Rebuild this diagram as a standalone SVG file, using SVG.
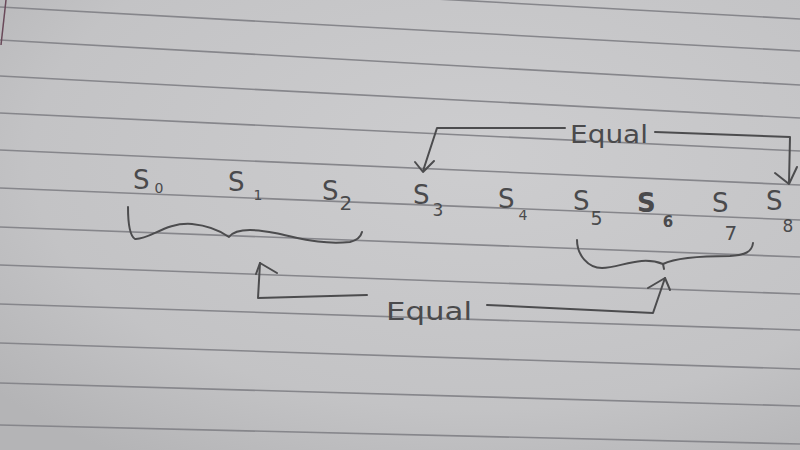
<svg xmlns="http://www.w3.org/2000/svg" width="800" height="450" viewBox="0 0 800 450">
<defs>
<radialGradient id="paper" cx="0.6" cy="0.35" r="0.8">
<stop offset="0" stop-color="#cdcdcf"/>
<stop offset="0.7" stop-color="#c3c3c5"/>
<stop offset="1" stop-color="#b4b4b6"/>
</radialGradient>
<style>
.rule{stroke:#86868b;stroke-width:1.6;fill:none}
.pen{stroke:#4c4c4e;stroke-width:2;fill:none;stroke-linecap:round;stroke-linejoin:round}
.s{font-family:"DejaVu Sans",sans-serif;font-size:26px;fill:#4a4a4c}
.lbl{font-family:"DejaVu Sans",sans-serif;font-size:25px;fill:#4a4a4c}
</style>
</defs>
<g id="paper-bg">
<rect width="800" height="450" fill="url(#paper)"/>
<path class="rule" d="M0 -25 L800 19"/>
<path class="rule" d="M0 7 L800 51"/>
<path class="rule" d="M0 40 L800 85"/>
<path class="rule" d="M0 76 L800 118"/>
<path class="rule" d="M0 113 L800 151"/>
<path class="rule" d="M0 150 L800 185"/>
<path class="rule" d="M0 188 L800 220"/>
<path class="rule" d="M0 227 L800 257"/>
<path class="rule" d="M0 265 L800 294"/>
<path class="rule" d="M0 304 L800 330"/>
<path class="rule" d="M0 343 L800 369"/>
<path class="rule" d="M0 383 L800 406"/>
<path class="rule" d="M0 425 L800 444"/>
<path d="M6 0 L1 45" stroke="#6a4a5a" stroke-width="1.5" fill="none"/>
</g>
<g id="connectors">
<g id="brace-left">
<path class="pen" d="M128 207 C128 222 130 236 135 239 C150 240 165 222 192 224 C212 226 222 232 229 237 C235 229 250 228 275 233 C300 238 320 245 350 242 C358 240 361 236 362 232"/>
</g>
<g id="brace-right">
<path class="pen" d="M577 240 C577 255 588 268 602 268 C620 268 640 255 663 264 C675 258 700 256 730 256 C745 255 752 252 753 243"/>
<path class="pen" d="M663 264 L664 269"/>
</g>
<g id="arrow-top">
<path class="pen" d="M565 128 L437 128 L423 171"/>
<path class="pen" d="M415 162 L423 172 L434 161"/>
<path class="pen" d="M655 132 L790 137 L789 183"/>
<path class="pen" d="M775 173 L789 184 L797 167"/>
</g>
<g id="arrow-bottom">
<path class="pen" d="M367 295 L258 298 L260 263"/>
<path class="pen" d="M256 274 L260 263 L277 273"/>
<path class="pen" d="M487 305 L653 313 L665 278"/>
<path class="pen" d="M648 288 L665 278 L670 290"/>
</g>
<text class="lbl" x="570" y="143" textLength="78" lengthAdjust="spacingAndGlyphs">Equal</text>
<text class="lbl" x="386" y="320" textLength="86" lengthAdjust="spacingAndGlyphs">Equal</text>
</g>
<g id="s0"><text class="s" x="133" y="189">S<tspan dx="5" dy="4" font-size="14">0</tspan></text></g>
<g id="s1"><text class="s" x="228" y="191">S<tspan dx="9" dy="9" font-size="14">1</tspan></text></g>
<g id="s2"><text class="s" x="322" y="200">S<tspan dx="1" dy="10" font-size="20">2</tspan></text></g>
<g id="s3"><text class="s" x="413" y="204">S<tspan dx="3" dy="12" font-size="17">3</tspan></text></g>
<g id="s4"><text class="s" x="498" y="208">S<tspan dx="4" dy="12" font-size="14">4</tspan></text></g>
<g id="s5"><text class="s" x="573" y="210">S<tspan dx="1" dy="15" font-size="19">5</tspan></text></g>
<g id="s6"><text class="s" x="637" y="212" font-weight="bold">S<tspan dx="7" dy="15" font-size="15">6</tspan></text></g>
<g id="s7"><text class="s" x="712" y="212">S<tspan dx="-4" dy="28" font-size="20">7</tspan></text></g>
<g id="s8"><text class="s" x="766" y="210">S<tspan dx="0" dy="22" font-size="17">8</tspan></text></g>
</svg>
